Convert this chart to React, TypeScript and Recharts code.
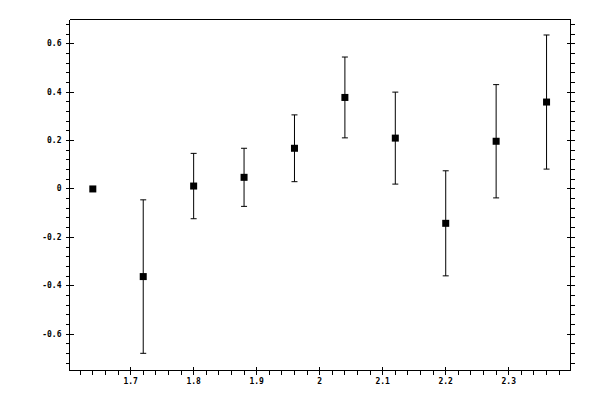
import { ScatterChart, Scatter, XAxis, YAxis, ErrorBar } from "recharts";

// measured values
const xValues = [1.64, 1.72, 1.8, 1.88, 1.96, 2.04, 2.12, 2.2, 2.28, 2.36];
const yValues = [0, -0.362, 0.012, 0.048, 0.168, 0.378, 0.21, -0.142, 0.197, 0.359];
const yErrors = [0, 0.317, 0.135, 0.12, 0.138, 0.167, 0.19, 0.217, 0.234, 0.277];

const xMajorTicks = [1.7, 1.8, 1.9, 2, 2.1, 2.2, 2.3];
const yMajorTicks = [-0.6, -0.4, -0.2, 0, 0.2, 0.4, 0.6];

const xDomain = [1.603, 2.398];
const yDomain = [-0.75, 0.7];

// minor ticks every 0.02 (x) and 0.04 (y)
const xTicks = Array.from({ length: 39 }, (_, i) => +(1.62 + i * 0.02).toFixed(2));
const yTicks = Array.from({ length: 36 }, (_, i) => +(-0.72 + i * 0.04).toFixed(2));

const data = xValues.map((x, i) => ({ x, y: yValues[i], err: yErrors[i] }));

const isMajor = (v: number, majors: number[]) => majors.some((m) => Math.abs(m - v) < 1e-6);
const fmt = (v: number) => String(Number(v.toFixed(2)));

function Tick(props: any) {
  const { x, y, payload, side, majors } = props;
  const v = payload.value;
  const major = isMajor(v, majors);
  const out = 4;
  const inn = major ? 4 : 0;
  const font = { fontFamily: "DejaVu Sans Mono", fontSize: 8, fontWeight: "bold", fill: "#000" };
  if (side === "left") {
    return (
      <g>
        <line x1={x - out} x2={x + inn} y1={y} y2={y} stroke="#000" shapeRendering="crispEdges" />
        {major && (
          <text x={x - 8} y={y} textAnchor="end" dominantBaseline="central" {...font}>
            {fmt(v)}
          </text>
        )}
      </g>
    );
  }
  if (side === "right") {
    return <line x1={x - inn} x2={x + out} y1={y} y2={y} stroke="#000" shapeRendering="crispEdges" />;
  }
  if (side === "bottom") {
    return (
      <g>
        <line x1={x} x2={x} y1={y - inn} y2={y + out} stroke="#000" shapeRendering="crispEdges" />
        {major && (
          <text x={x} y={y + 11} textAnchor="middle" dominantBaseline="central" {...font}>
            {fmt(v)}
          </text>
        )}
      </g>
    );
  }
  return <line x1={x} x2={x} y1={y - out} y2={y + inn} stroke="#000" shapeRendering="crispEdges" />;
}

function Marker(props: any) {
  const { cx, cy } = props;
  return <rect x={cx - 3.5} y={cy - 3.5} width={7} height={7} fill="#000" />;
}

const axisStyle = { stroke: "#000", shapeRendering: "crispEdges" };

export default function App() {
  return (
    <div style={{ position: "absolute", left: 0, top: 0, width: 600, height: 400, background: "#fff" }}>
      <ScatterChart width={600} height={400} margin={{ top: 18.5, right: 28.5, bottom: 28.5, left: 68.5 }}>
        <XAxis
          xAxisId="b"
          dataKey="x"
          type="number"
          domain={xDomain}
          allowDataOverflow
          ticks={xTicks}
          interval={0}
          height={1}
          tickSize={0}
          tickMargin={0}
          tickLine={false}
          axisLine={axisStyle}
          tick={(p: any) => <Tick {...p} side="bottom" majors={xMajorTicks} />}
        />
        <XAxis
          xAxisId="t"
          orientation="top"
          type="number"
          domain={xDomain}
          allowDataOverflow
          ticks={xTicks}
          interval={0}
          height={1}
          tickSize={0}
          tickMargin={0}
          tickLine={false}
          axisLine={axisStyle}
          tick={(p: any) => <Tick {...p} side="top" majors={xMajorTicks} />}
        />
        <YAxis
          yAxisId="l"
          dataKey="y"
          type="number"
          domain={yDomain}
          allowDataOverflow
          ticks={yTicks}
          interval={0}
          width={1}
          tickSize={0}
          tickMargin={0}
          tickLine={false}
          axisLine={axisStyle}
          tick={(p: any) => <Tick {...p} side="left" majors={yMajorTicks} />}
        />
        <YAxis
          yAxisId="r"
          orientation="right"
          type="number"
          domain={yDomain}
          allowDataOverflow
          ticks={yTicks}
          interval={0}
          width={1}
          tickSize={0}
          tickMargin={0}
          tickLine={false}
          axisLine={axisStyle}
          tick={(p: any) => <Tick {...p} side="right" majors={yMajorTicks} />}
        />
        <Scatter xAxisId="b" yAxisId="l" data={data} shape={<Marker />} isAnimationActive={false}>
          <ErrorBar dataKey="err" direction="y" width={3} stroke="#000" strokeWidth={1} isAnimationActive={false} />
        </Scatter>
      </ScatterChart>
    </div>
  );
}
